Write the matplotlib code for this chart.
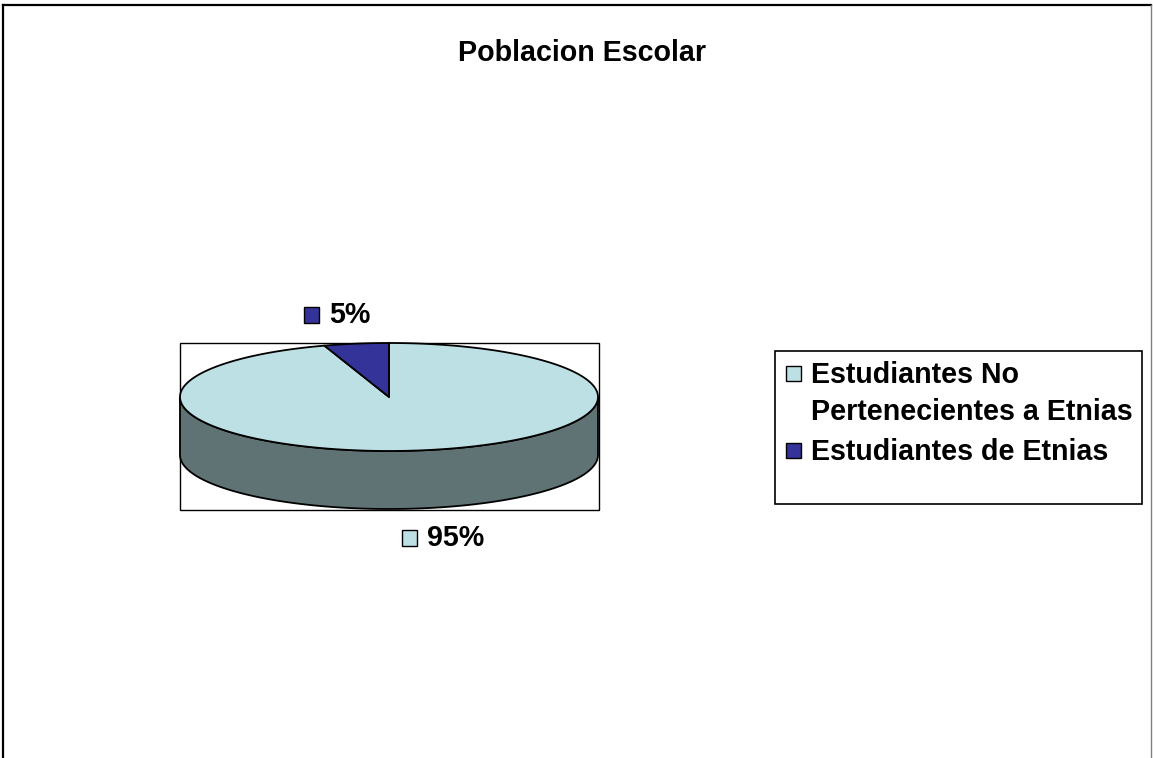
"""Poblacion Escolar: pie 3D al estilo Excel (sector 95% / 5%)."""
import numpy as np
import matplotlib.pyplot as plt
from matplotlib.patches import Polygon, Rectangle
from matplotlib.lines import Line2D

plt.rcParams["font.family"] = ["Liberation Sans", "DejaVu Sans"]

title = "Poblacion Escolar"
categories = ["Estudiantes No\nPertenecientes a Etnias", "Estudiantes de Etnias"]
shares = [95, 5]
pct_labels = ["95%", "5%"]
top_colors = ["#bce0e4", "#333399"]
side_colors = ["#5f7375", "#1f1f5c"]

W, H = 1153, 758
CX, CY, RX, RY, DEPTH = 389, 397, 209, 54, 58
FS = 20.6


def ellipse(theta, drop=0.0):
    t = np.radians(theta)
    return np.column_stack([CX + RX * np.cos(t), CY - RY * np.sin(t) + drop])


fig = plt.figure(figsize=(W / 100, H / 100), dpi=100)
ax = fig.add_axes([0, 0, 1, 1])
ax.set_xlim(0, W)
ax.set_ylim(H, 0)
ax.axis("off")

# slices go clockwise from 12 o'clock, as in Excel
total = float(sum(shares))
spans = []
start = 90.0
for s in shares:
    end = start - s / total * 360.0
    spans.append((end, start))
    start = end

# front wall (visible lower half of the cylinder)
for (lo0, hi0), col in zip(spans, side_colors):
    for k in (-360, 0, 360):
        lo, hi = max(lo0, -180 + k), min(hi0, 0 + k)
        if lo >= hi:
            continue
        th = np.linspace(lo, hi, 120)
        pts = np.vstack([ellipse(th), ellipse(th[::-1], DEPTH)])
        ax.add_patch(Polygon(pts, closed=True, facecolor=col,
                             edgecolor="black", lw=1.3, zorder=2))

# top face
for (lo, hi), col in zip(spans, top_colors):
    th = np.linspace(hi, lo, 300)
    pts = np.vstack([[CX, CY], ellipse(th)])
    ax.add_patch(Polygon(pts, closed=True, facecolor=col,
                         edgecolor="black", lw=1.3, zorder=3, joinstyle="round"))

# plot-area frame
ax.add_patch(Rectangle((180, 343), 419, 167, fill=False, edgecolor="black",
                       lw=1.0, zorder=1))

# data labels with legend key
label_pos = [(402, 538), (304, 315)]
for (x, y), txt, col in zip(label_pos, pct_labels, top_colors):
    ax.add_patch(Rectangle((x, y - 8), 15, 16, facecolor=col,
                           edgecolor="black", lw=1.0, zorder=4))
    ax.text(x + 25, y, txt, fontsize=FS, fontweight="bold",
            va="center", ha="left", zorder=4)

# title
ax.text(582, 53, title, fontsize=FS, fontweight="bold", ha="center", va="center")

# legend
ax.add_patch(Rectangle((775, 351), 367, 153, fill=False, edgecolor="black",
                       lw=1.2, zorder=1))
leg_y = [374, 451]
for y, txt, col in zip(leg_y, categories, top_colors):
    ax.add_patch(Rectangle((786, y - 8), 15, 15, facecolor=col,
                           edgecolor="black", lw=1.0, zorder=4))
    ax.text(811, y - 13, txt, fontsize=FS, fontweight="bold",
            va="top", ha="left", linespacing=1.4)

# outer chart border (bottom is cut off in the original)
fig.add_artist(Line2D([3 / W, 3 / W], [0, 1 - 5 / H], color="black", lw=1.6))
fig.add_artist(Line2D([3 / W, 1151 / W], [1 - 5 / H, 1 - 5 / H], color="black", lw=1.6))
fig.add_artist(Line2D([1151 / W, 1151 / W], [0, 1 - 5 / H], color="#808080", lw=1.0))

fig.savefig("out.png", dpi=100)
